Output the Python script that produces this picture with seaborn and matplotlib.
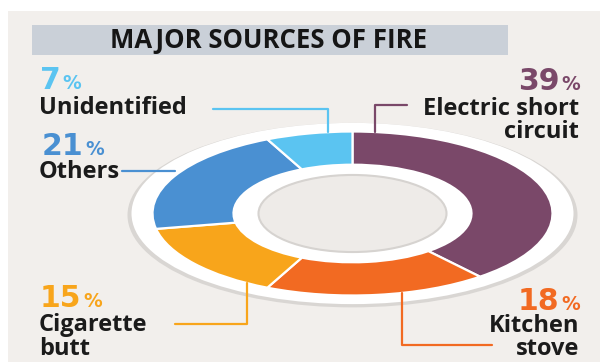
import matplotlib
matplotlib.use("Agg")
import matplotlib.pyplot as plt
import seaborn as sns
import numpy as np
from matplotlib.patches import Rectangle, Circle

# ---- data ----
categories = ["Electric short circuit", "Kitchen stove", "Cigarette butt", "Others", "Unidentified"]
shares = [39, 18, 15, 21, 7]
label_lines = [["Electric short", "circuit"], ["Kitchen", "stove"], ["Cigarette", "butt"], ["Others"], ["Unidentified"]]
colors = ["#7A4869", "#F26A22", "#F8A51B", "#4A90D2", "#5BC4F1"]
title = "MAJOR SOURCES OF FIRE"

sns.set_theme(style="white")
plt.rcParams["font.family"] = ["Open Sans", "DejaVu Sans"]

W, H = 600, 362
fig = plt.figure(figsize=(6, 3.62), dpi=100)
fig.patch.set_facecolor("white")

# background + banner
ax_bg = fig.add_axes([0, 0, 1, 1], zorder=0)
ax_bg.set_xlim(0, W); ax_bg.set_ylim(H, 0); ax_bg.axis("off")
ax_bg.add_patch(Rectangle((8, 11), W - 8, H - 11, color="#F2EFEC", lw=0))
ax_bg.add_patch(Rectangle((32, 25), 476, 30, color="#CAD0D8", lw=0))
ax_bg.text(269, 40.5, title, ha="center", va="center", fontsize=18.5,
           fontweight="bold", color="#151515")

# donut geometry in pixels
cx, cy, rx, ry = 352.5, 213.5, 200, 82
lim = 1.3
ax_d = fig.add_axes([(cx - lim * rx) / W, (H - cy - lim * ry) / H,
                     2 * lim * rx / W, 2 * lim * ry / H], zorder=1)
ax_d.add_patch(Circle((0, -0.02), 1.125, fc="#D9D6D3", ec="none", zorder=0.3))
ax_d.add_patch(Circle((0, 0), 1.105, fc="white", ec="none", zorder=0.5))
wedges, _ = ax_d.pie(shares, colors=colors, startangle=90, counterclock=False, radius=1,
                     wedgeprops=dict(width=0.405, edgecolor="white", linewidth=1.6))
ax_d.add_patch(Circle((0, 0), 0.595, fc="white", ec="none", zorder=2))
ax_d.add_patch(Circle((0, 0), 0.47, fc="#EEEBE8", ec="#D6D3D0", lw=1.5, zorder=3))
ax_d.set_aspect("auto")
ax_d.set_xlim(-lim, lim); ax_d.set_ylim(-lim, lim)
ax_d.axis("off")

# overlay for labels
ax_t = fig.add_axes([0, 0, 1, 1], zorder=2)
ax_t.set_xlim(0, W); ax_t.set_ylim(H, 0); ax_t.axis("off")
ax_t.patch.set_alpha(0)
renderer = fig.canvas.get_renderer()

def extent(t):
    bb = t.get_window_extent(renderer)
    inv = ax_t.transData.inverted()
    (x0, _), (x1, _) = inv.transform([[bb.x0, bb.y0], [bb.x1, bb.y1]])
    return x0, x1

def ell_y(x, top=True):
    v = np.sqrt(max(0.0, 1 - ((x - cx) / rx) ** 2)) * ry
    return cy - v if top else cy + v

NUM_FS, PCT_FS, NAME_FS = 21.5, 13.5, 17
NUM_FONT = ["DejaVu Sans"]
DARK = "#1B1B1B"

def pct_label(x, base, value, color, align):
    if align == "left":
        n = ax_t.text(x, base, f"{value}", ha="left", va="baseline", fontsize=NUM_FS,
                      fontweight="bold", family=NUM_FONT, color=color)
        _, x1 = extent(n)
        ax_t.text(x1 + 2, base, "%", ha="left", va="baseline", fontsize=PCT_FS,
                  fontweight="bold", family=NUM_FONT, color=color)
    else:
        p = ax_t.text(x, base, "%", ha="right", va="baseline", fontsize=PCT_FS,
                      fontweight="bold", family=NUM_FONT, color=color)
        x0, _ = extent(p)
        ax_t.text(x0 - 2, base, f"{value}", ha="right", va="baseline", fontsize=NUM_FS,
                  fontweight="bold", family=NUM_FONT, color=color)

def names(x, bases, lines, align):
    out = []
    for b, s in zip(bases, lines):
        out.append(ax_t.text(x, b, s, ha=align, va="baseline", fontsize=NAME_FS,
                             fontweight="bold", color=DARK))
    return out

LW = 1.6
idx = {c: i for i, c in enumerate(categories)}

# Electric short circuit (top right)
i = idx["Electric short circuit"]
pct_label(580, 90, shares[i], colors[i], "right")
names(579, [115, 138], label_lines[i], "right")
ax_t.plot([407, 375, 375], [105, 105, ell_y(375)], color=colors[i], lw=LW)

# Kitchen stove (bottom right)
i = idx["Kitchen stove"]
pct_label(580, 310, shares[i], colors[i], "right")
names(579, [332, 355], label_lines[i], "right")
ax_t.plot([402, 402, 492], [ell_y(402, False), 345, 345], color=colors[i], lw=LW)

# Cigarette butt (bottom left)
i = idx["Cigarette butt"]
pct_label(40, 307, shares[i], colors[i], "left")
names(39, [331, 355], label_lines[i], "left")
ax_t.plot([175, 247, 247], [324, 324, ell_y(247, False)], color=colors[i], lw=LW)

# Others (left)
i = idx["Others"]
pct_label(42, 155, shares[i], colors[i], "left")
t = names(39, [177.5], label_lines[i], "left")[0]
_, xe = extent(t)
ax_t.plot([xe + 2, 175], [171, 171], color=colors[i], lw=LW)

# Unidentified (top left)
i = idx["Unidentified"]
pct_label(40, 89, shares[i], colors[i], "left")
names(39, [114], label_lines[i], "left")
ax_t.plot([213, 328, 328], [109, 109, ell_y(328)], color=colors[i], lw=LW)

fig.savefig("out.png", dpi=100, facecolor="white")
